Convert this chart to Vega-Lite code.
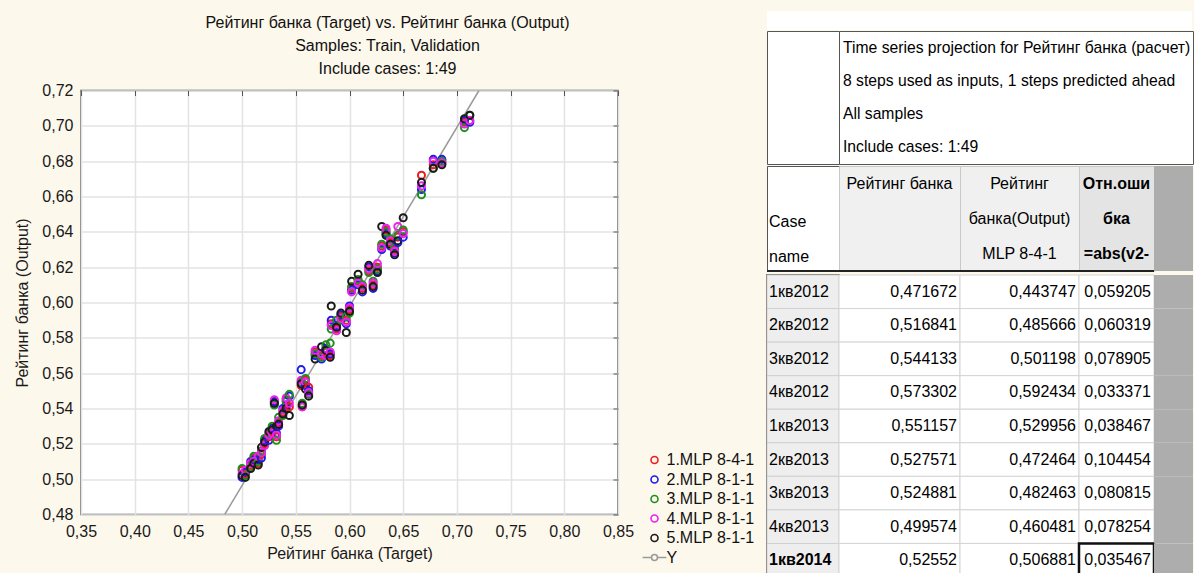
{
  "$schema": "https://vega.github.io/schema/vega-lite/v6.json",
  "background": "#fdf8ec",
  "padding": {"left": 14, "top": 11, "right": 0, "bottom": 0},
  "autosize": {"type": "pad"},
  "spacing": 71,
  "config": {
    "view": {"stroke": null},
    "concat": {"spacing": 0},
    "locale": {"number": {"decimal": ",", "thousands": " ", "grouping": [3], "currency": ["", ""]}},
    "axis": {"labelFont": "Liberation Sans", "titleFont": "Liberation Sans", "labelFontSize": 16, "titleFontSize": 16, "titleFontWeight": "normal", "labelColor": "#1a1a1a", "titleColor": "#1a1a1a", "gridColor": "#e3e3e3", "gridWidth": 1.5, "labelFlush": false},
    "legend": {"labelFont": "Liberation Sans", "labelFontSize": 16, "labelColor": "#111111"},
    "text": {"font": "Liberation Sans", "fontSize": 16, "color": "#000000"}
  },
  "datasets": {
    "scat": [
      {"t":0.500,"m1":0.505,"m2":0.501,"m3":0.506,"m4":0.503,"m5":0.502},
      {"t":0.503,"m1":0.503,"m2":0.504,"m3":0.502,"m4":0.505,"m5":0.501},
      {"t":0.508,"m1":0.508,"m2":0.510,"m3":0.507,"m4":0.509,"m5":0.506},
      {"t":0.511,"m1":0.512,"m2":0.511,"m3":0.513,"m4":0.510,"m5":0.509},
      {"t":0.515,"m1":0.509,"m2":0.511,"m3":0.510,"m4":0.513,"m5":0.508},
      {"t":0.518,"m1":0.514,"m2":0.512,"m3":0.516,"m4":0.515,"m5":0.518},
      {"t":0.521,"m1":0.520,"m2":0.522,"m3":0.523,"m4":0.519,"m5":0.521},
      {"t":0.525,"m1":0.524,"m2":0.522,"m3":0.526,"m4":0.525,"m5":0.527},
      {"t":0.528,"m1":0.527,"m2":0.529,"m3":0.530,"m4":0.526,"m5":0.528},
      {"t":0.532,"m1":0.524,"m2":0.526,"m3":0.522,"m4":0.525,"m5":0.530},
      {"t":0.534,"m1":0.532,"m2":0.530,"m3":0.535,"m4":0.533,"m5":0.531},
      {"t":0.530,"m1":0.543,"m2":0.544,"m3":0.542,"m4":0.545,"m5":0.543},
      {"t":0.538,"m1":0.538,"m2":0.540,"m3":0.536,"m4":0.539,"m5":0.537},
      {"t":0.541,"m1":0.545,"m2":0.542,"m3":0.544,"m4":0.546,"m5":0.540},
      {"t":0.544,"m1":0.541,"m2":0.547,"m3":0.548,"m4":0.543,"m5":0.536},
      {"t":0.555,"m1":0.553,"m2":0.562,"m3":0.555,"m4":0.556,"m5":0.554},
      {"t":0.556,"m1":0.541,"m2":0.542,"m3":0.543,"m4":0.541,"m5":0.542},
      {"t":0.559,"m1":0.556,"m2":0.553,"m3":0.557,"m4":0.555,"m5":0.551},
      {"t":0.562,"m1":0.552,"m2":0.550,"m3":0.548,"m4":0.549,"m5":0.547},
      {"t":0.568,"m1":0.572,"m2":0.570,"m3":0.571,"m4":0.573,"m5":0.568},
      {"t":0.574,"m1":0.570,"m2":0.568,"m3":0.569,"m4":0.571,"m5":0.575},
      {"t":0.578,"m1":0.572,"m2":0.574,"m3":0.576,"m4":0.570,"m5":0.573},
      {"t":0.582,"m1":0.570,"m2":0.571,"m3":0.577,"m4":0.572,"m5":0.569},
      {"t":0.583,"m1":0.588,"m2":0.590,"m3":0.585,"m4":0.587,"m5":0.598},
      {"t":0.588,"m1":0.585,"m2":0.587,"m3":0.590,"m4":0.584,"m5":0.586},
      {"t":0.592,"m1":0.592,"m2":0.593,"m3":0.590,"m4":0.591,"m5":0.594},
      {"t":0.597,"m1":0.590,"m2":0.588,"m3":0.592,"m4":0.589,"m5":0.583},
      {"t":0.600,"m1":0.596,"m2":0.598,"m3":0.594,"m4":0.597,"m5":0.595},
      {"t":0.602,"m1":0.608,"m2":0.607,"m3":0.609,"m4":0.606,"m5":0.612},
      {"t":0.608,"m1":0.612,"m2":0.610,"m3":0.613,"m4":0.611,"m5":0.616},
      {"t":0.612,"m1":0.608,"m2":0.606,"m3":0.610,"m4":0.609,"m5":0.607},
      {"t":0.618,"m1":0.618,"m2":0.620,"m3":0.617,"m4":0.619,"m5":0.621},
      {"t":0.622,"m1":0.610,"m2":0.608,"m3":0.612,"m4":0.611,"m5":0.609},
      {"t":0.626,"m1":0.620,"m2":0.618,"m3":0.619,"m4":0.622,"m5":0.617},
      {"t":0.630,"m1":0.632,"m2":0.630,"m3":0.633,"m4":0.631,"m5":0.643},
      {"t":0.634,"m1":0.641,"m2":0.639,"m3":0.640,"m4":0.642,"m5":0.638},
      {"t":0.638,"m1":0.634,"m2":0.632,"m3":0.636,"m4":0.635,"m5":0.633},
      {"t":0.642,"m1":0.630,"m2":0.628,"m3":0.631,"m4":0.629,"m5":0.627},
      {"t":0.645,"m1":0.637,"m2":0.634,"m3":0.638,"m4":0.643,"m5":0.635},
      {"t":0.650,"m1":0.640,"m2":0.637,"m3":0.641,"m4":0.639,"m5":0.648},
      {"t":0.667,"m1":0.672,"m2":0.664,"m3":0.661,"m4":0.666,"m5":0.668},
      {"t":0.678,"m1":0.678,"m2":0.681,"m3":0.676,"m4":0.680,"m5":0.676},
      {"t":0.686,"m1":0.679,"m2":0.681,"m3":0.680,"m4":0.679,"m5":0.678},
      {"t":0.707,"m1":0.702,"m2":0.703,"m3":0.699,"m4":0.701,"m5":0.704},
      {"t":0.712,"m1":0.703,"m2":0.702,"m3":0.706,"m4":0.703,"m5":0.706}
    ],
    "hdr": [
      {"k":"c0","line":2,"label":"Case"},
      {"k":"c0","line":3,"label":"name"},
      {"k":"c1","line":1,"label":"Рейтинг банка"},
      {"k":"c2","line":1,"label":"Рейтинг"},
      {"k":"c2","line":2,"label":"банка(Output)"},
      {"k":"c2","line":3,"label":"MLP 8-4-1"},
      {"k":"c3","line":1,"label":"Отн.оши"},
      {"k":"c3","line":2,"label":"бка"},
      {"k":"c3","line":3,"label":"=abs(v2-"},
      {"k":"c4","line":1,"label":""}
    ],
    "proj": [
      {"line":1,"label":"Time series projection for Рейтинг банка (расчет)"},
      {"line":2,"label":"8 steps used as inputs, 1 steps predicted ahead"},
      {"line":3,"label":"All samples"},
      {"line":4,"label":"Include cases: 1:49"}
    ],
    "tbl": [
      {"case":"1кв2012","a":0.471672,"b":0.443747,"c":0.059205},
      {"case":"2кв2012","a":0.516841,"b":0.485666,"c":0.060319},
      {"case":"3кв2012","a":0.544133,"b":0.501198,"c":0.078905},
      {"case":"4кв2012","a":0.573302,"b":0.592434,"c":0.033371},
      {"case":"1кв2013","a":0.551157,"b":0.529956,"c":0.038467},
      {"case":"2кв2013","a":0.527571,"b":0.472464,"c":0.104454},
      {"case":"3кв2013","a":0.524881,"b":0.482463,"c":0.080815},
      {"case":"4кв2013","a":0.499574,"b":0.460481,"c":0.078254},
      {"case":"1кв2014","a":0.52552,"b":0.506881,"c":0.035467}
    ]
  },
  "hconcat": [
    {
      "spacing": 1.5,
      "vconcat": [
        {
          "width": 613, "height": 69,
          "data": {"values": [
            {"line": 1, "label": "Рейтинг банка (Target) vs. Рейтинг банка (Output)"},
            {"line": 2, "label": "Samples: Train, Validation"},
            {"line": 3, "label": "Include cases: 1:49"}
          ]},
          "mark": {"type": "text", "baseline": "middle", "color": "#111111"},
          "encoding": {
            "y": {"field": "line", "type": "ordinal", "axis": null, "scale": {"type": "band", "paddingInner": 0, "paddingOuter": 0}},
            "text": {"field": "label"}
          }
        },
        {
          "width": 537,
          "height": 424,
          "view": {"fill": "white", "stroke": "#555555", "strokeWidth": 1.5},
          "encoding": {
            "color": {"field": "s", "type": "nominal",
              "scale": {"domain": ["m1","m2","m3","m4","m5","Y"], "range": ["#ee1c1c","#1c1cee","#1f8f1f","#f01ef0","#1a1a1a","#9a9a9a"]},
              "legend": {"title": null, "orient": "none", "legendX": 565.5, "legendY": 441, "padding": 0,
                "symbolType": "circle", "symbolSize": 49, "symbolStrokeWidth": 1.6, "symbolFillColor": "transparent",
                "labelOffset": 4, "rowPadding": 3.5,
                "labelExpr": "datum.label == 'Y' ? 'Y' : (datum.label == 'm1' ? '1.MLP 8-4-1' : slice(datum.label, 1) + '.MLP 8-1-1')",
                "encode": {"symbols": {"update": {"shape": {"signal": "datum.value == 'Y' ? 'M-3.4,0H-0.85M0.85,0H3.4M-0.85,0A0.85,0.85 0 1,1 0.85,0A0.85,0.85 0 1,1 -0.85,0' : 'circle'"}, "fill": {"value": "transparent"}}}}
              }
            }
          },
          "layer": [
            {
              "data": {"values": [{"t": 0.4838, "o": 0.48, "s": "Y"}, {"t": 0.7206, "o": 0.72, "s": "Y"}]},
              "mark": {"type": "line", "strokeWidth": 1.5, "clip": true},
              "encoding": {
                "x": {"field": "t", "type": "quantitative", "scale": {"domain": [0.35, 0.85], "nice": false, "zero": false},
                  "axis": {"values": [0.35,0.40,0.45,0.50,0.55,0.60,0.65,0.70,0.75,0.80,0.85], "format": ".2f", "title": "Рейтинг банка (Target)", "grid": true, "ticks": false, "domain": false, "labelPadding": 9, "titlePadding": 6}},
                "y": {"field": "o", "type": "quantitative", "scale": {"domain": [0.48, 0.72], "nice": false, "zero": false},
                  "axis": {"values": [0.48,0.50,0.52,0.54,0.56,0.58,0.60,0.62,0.64,0.66,0.68,0.70,0.72], "format": ".2f", "title": "Рейтинг банка (Output)", "grid": true, "ticks": false, "domain": false, "labelPadding": 8, "titlePadding": 11}}
              }
            },
            {
              "data": {"name": "scat"},
              "transform": [{"fold": ["m1","m2","m3","m4","m5"], "as": ["s", "o"]}],
              "mark": {"type": "point", "shape": "circle", "filled": false, "size": 50, "strokeWidth": 2, "opacity": 1},
              "encoding": {
                "x": {"field": "t", "type": "quantitative", "scale": {"domain": [0.35, 0.85], "nice": false, "zero": false},
                  "axis": {"orient": "top", "values": [0.35,0.40,0.45,0.50,0.55,0.60,0.65,0.70,0.75,0.80,0.85], "labels": false, "grid": false, "domain": false, "ticks": true, "tickSize": -5, "tickColor": "#555555", "title": null}},
                "y": {"field": "o", "type": "quantitative", "scale": {"domain": [0.48, 0.72], "nice": false, "zero": false},
                  "axis": {"orient": "right", "values": [0.48,0.50,0.52,0.54,0.56,0.58,0.60,0.62,0.64,0.66,0.68,0.70,0.72], "labels": false, "grid": false, "domain": false, "ticks": true, "tickSize": -5, "tickColor": "#555555", "title": null}}
              }
            }
          ],
          "resolve": {"axis": {"x": "independent", "y": "independent"}}
        }
      ]
    },
    {
      "vconcat": [
        {"width": 425, "height": 19, "view": {"fill": "white"}, "data": {"values": [{}]}, "mark": {"type": "text", "text": ""}},
        {
          "bounds": "flush",
          "hconcat": [
            {"width": 72, "height": 133, "view": {"fill": "white", "stroke": "#555555"}, "data": {"values": [{}]}, "mark": {"type": "text", "text": ""}},
            {"width": 354, "height": 133, "view": {"fill": "white", "stroke": "#555555"},
              "data": {"name": "proj"},
              "mark": {"type": "text", "align": "left", "baseline": "middle", "dx": 4, "fontSize": 15.7},
              "encoding": {
                "x": {"datum": "t", "type": "nominal", "bandPosition": 0, "axis": null, "scale": {"type": "band", "paddingInner": 0, "paddingOuter": 0}},
                "y": {"field": "line", "type": "ordinal", "axis": null, "scale": {"type": "band", "paddingInner": 0, "paddingOuter": 0, "domain": [1,2,3,4]}},
                "text": {"field": "label"}
              }
            }
          ]
        },
        {
          "bounds": "flush",
          "hconcat": [
            {"width": 72, "height": 105, "view": {"fill": "white", "stroke": "#555555"}, "data": {"name": "hdr"}, "transform": [{"filter": "datum.k == 'c0'"}],
              "layer": [
                {"mark": {"type": "text", "align": "left", "baseline": "middle", "dx": 2, "dy": 3},
                  "encoding": {
                    "x": {"datum": "h", "type": "nominal", "bandPosition": 0, "axis": null, "scale": {"type": "band", "paddingInner": 0, "paddingOuter": 0}},
                    "y": {"field": "line", "type": "ordinal", "axis": null, "scale": {"type": "band", "paddingInner": 0, "paddingOuter": 0, "domain": [1,2,3]}},
                    "text": {"field": "label"}}},
                {"mark": {"type": "rule", "color": "#222222", "strokeWidth": 2},
                  "encoding": {"y": {"datum": 3, "type": "ordinal", "bandPosition": 1, "axis": null, "scale": {"type": "band", "paddingInner": 0, "paddingOuter": 0, "domain": [1,2,3]}}}}
              ]
            },
            {"width": 121, "height": 105, "view": {"fill": "#f0f0f0", "stroke": "#c8c8c8"}, "data": {"name": "hdr"}, "transform": [{"filter": "datum.k == 'c1'"}],
              "layer": [
                {"mark": {"type": "text", "baseline": "middle"},
                  "encoding": {
                    "y": {"field": "line", "type": "ordinal", "axis": null, "scale": {"type": "band", "paddingInner": 0, "paddingOuter": 0, "domain": [1,2,3]}},
                    "text": {"field": "label"}}},
                {"mark": {"type": "rule", "color": "#222222", "strokeWidth": 2},
                  "encoding": {"y": {"datum": 3, "type": "ordinal", "bandPosition": 1, "axis": null, "scale": {"type": "band", "paddingInner": 0, "paddingOuter": 0, "domain": [1,2,3]}}}}
              ]
            },
            {"width": 119, "height": 105, "view": {"fill": "#f0f0f0", "stroke": "#c8c8c8"}, "data": {"name": "hdr"}, "transform": [{"filter": "datum.k == 'c2'"}],
              "layer": [
                {"mark": {"type": "text", "baseline": "middle"},
                  "encoding": {
                    "y": {"field": "line", "type": "ordinal", "axis": null, "scale": {"type": "band", "paddingInner": 0, "paddingOuter": 0, "domain": [1,2,3]}},
                    "text": {"field": "label"}}},
                {"mark": {"type": "rule", "color": "#222222", "strokeWidth": 2},
                  "encoding": {"y": {"datum": 3, "type": "ordinal", "bandPosition": 1, "axis": null, "scale": {"type": "band", "paddingInner": 0, "paddingOuter": 0, "domain": [1,2,3]}}}}
              ]
            },
            {"width": 75, "height": 105, "view": {"fill": "#e4e4e4", "stroke": "#c8c8c8"}, "data": {"name": "hdr"}, "transform": [{"filter": "datum.k == 'c3'"}],
              "layer": [
                {"mark": {"type": "text", "baseline": "middle", "fontWeight": "bold"},
                  "encoding": {
                    "y": {"field": "line", "type": "ordinal", "axis": null, "scale": {"type": "band", "paddingInner": 0, "paddingOuter": 0, "domain": [1,2,3]}},
                    "text": {"field": "label"}}},
                {"mark": {"type": "rule", "color": "#222222", "strokeWidth": 2},
                  "encoding": {"y": {"datum": 3, "type": "ordinal", "bandPosition": 1, "axis": null, "scale": {"type": "band", "paddingInner": 0, "paddingOuter": 0, "domain": [1,2,3]}}}}
              ]
            },
            {"width": 39, "height": 105, "view": {"fill": "#adadad"}, "data": {"name": "hdr"}, "transform": [{"filter": "datum.k == 'c4'"}],
              "mark": {"type": "text"}, "encoding": {"text": {"field": "label"}}}
          ]
        },
        {
          "bounds": "flush",
          "hconcat": [
            {"width": 72, "height": 302, "view": {"stroke": "#222222", "strokeWidth": 1.5}, "data": {"name": "tbl"},
              "layer": [
                {"mark": {"type": "rect", "fill": "#eeeeee", "stroke": "#d0d0d0", "strokeWidth": 1},
                  "encoding": {
                    "x": {"datum": "v", "type": "nominal", "axis": null, "scale": {"type": "band", "paddingInner": 0, "paddingOuter": 0}},
                    "y": {"field": "case", "type": "ordinal", "axis": null, "scale": {"type": "band", "paddingInner": 0, "paddingOuter": 0, "domain": ["1кв2012","2кв2012","3кв2012","4кв2012","1кв2013","2кв2013","3кв2013","4кв2013","1кв2014"]}}}},
                {"transform": [{"filter": "datum.case != '1кв2014'"}],
                  "mark": {"type": "text", "align": "left", "baseline": "middle", "dx": 2},
                  "encoding": {
                    "x": {"datum": "v", "type": "nominal", "bandPosition": 0, "axis": null, "scale": {"type": "band", "paddingInner": 0, "paddingOuter": 0}},
                    "y": {"field": "case", "type": "ordinal", "axis": null, "scale": {"type": "band", "paddingInner": 0, "paddingOuter": 0, "domain": ["1кв2012","2кв2012","3кв2012","4кв2012","1кв2013","2кв2013","3кв2013","4кв2013","1кв2014"]}},
                    "text": {"field": "case"}}},
                {"transform": [{"filter": "datum.case == '1кв2014'"}],
                  "mark": {"type": "text", "align": "left", "baseline": "middle", "dx": 2, "fontWeight": "bold"},
                  "encoding": {
                    "x": {"datum": "v", "type": "nominal", "bandPosition": 0, "axis": null, "scale": {"type": "band", "paddingInner": 0, "paddingOuter": 0}},
                    "y": {"field": "case", "type": "ordinal", "axis": null, "scale": {"type": "band", "paddingInner": 0, "paddingOuter": 0, "domain": ["1кв2012","2кв2012","3кв2012","4кв2012","1кв2013","2кв2013","3кв2013","4кв2013","1кв2014"]}},
                    "text": {"field": "case"}}}
              ]
            },
            {"width": 121, "height": 302, "data": {"name": "tbl"},
              "layer": [
                {"mark": {"type": "rect", "fill": "white", "stroke": "#d4d4d4", "strokeWidth": 1},
                  "encoding": {
                    "x": {"datum": "v", "type": "nominal", "axis": null, "scale": {"type": "band", "paddingInner": 0, "paddingOuter": 0}},
                    "y": {"field": "case", "type": "ordinal", "axis": null, "scale": {"type": "band", "paddingInner": 0, "paddingOuter": 0, "domain": ["1кв2012","2кв2012","3кв2012","4кв2012","1кв2013","2кв2013","3кв2013","4кв2013","1кв2014"]}}}},
                {"mark": {"type": "text", "align": "right", "baseline": "middle", "dx": -3},
                  "encoding": {
                    "x": {"datum": "v", "type": "nominal", "bandPosition": 1, "axis": null, "scale": {"type": "band", "paddingInner": 0, "paddingOuter": 0}},
                    "y": {"field": "case", "type": "ordinal", "axis": null, "scale": {"type": "band", "paddingInner": 0, "paddingOuter": 0, "domain": ["1кв2012","2кв2012","3кв2012","4кв2012","1кв2013","2кв2013","3кв2013","4кв2013","1кв2014"]}},
                    "text": {"field": "a", "type": "quantitative", "format": ".6~f"}}}
              ]
            },
            {"width": 119, "height": 302, "data": {"name": "tbl"},
              "layer": [
                {"mark": {"type": "rect", "fill": "white", "stroke": "#d4d4d4", "strokeWidth": 1},
                  "encoding": {
                    "x": {"datum": "v", "type": "nominal", "axis": null, "scale": {"type": "band", "paddingInner": 0, "paddingOuter": 0}},
                    "y": {"field": "case", "type": "ordinal", "axis": null, "scale": {"type": "band", "paddingInner": 0, "paddingOuter": 0, "domain": ["1кв2012","2кв2012","3кв2012","4кв2012","1кв2013","2кв2013","3кв2013","4кв2013","1кв2014"]}}}},
                {"mark": {"type": "text", "align": "right", "baseline": "middle", "dx": -3},
                  "encoding": {
                    "x": {"datum": "v", "type": "nominal", "bandPosition": 1, "axis": null, "scale": {"type": "band", "paddingInner": 0, "paddingOuter": 0}},
                    "y": {"field": "case", "type": "ordinal", "axis": null, "scale": {"type": "band", "paddingInner": 0, "paddingOuter": 0, "domain": ["1кв2012","2кв2012","3кв2012","4кв2012","1кв2013","2кв2013","3кв2013","4кв2013","1кв2014"]}},
                    "text": {"field": "b", "type": "quantitative", "format": ".6~f"}}}
              ]
            },
            {"width": 75, "height": 302, "data": {"name": "tbl"},
              "layer": [
                {"mark": {"type": "rect", "fill": "white", "stroke": "#d4d4d4", "strokeWidth": 1},
                  "encoding": {
                    "x": {"datum": "v", "type": "nominal", "axis": null, "scale": {"type": "band", "paddingInner": 0, "paddingOuter": 0}},
                    "y": {"field": "case", "type": "ordinal", "axis": null, "scale": {"type": "band", "paddingInner": 0, "paddingOuter": 0, "domain": ["1кв2012","2кв2012","3кв2012","4кв2012","1кв2013","2кв2013","3кв2013","4кв2013","1кв2014"]}}}},
                {"transform": [{"filter": "datum.case == '1кв2014'"}],
                  "mark": {"type": "rect", "fillOpacity": 0, "stroke": "#111111", "strokeWidth": 2.5},
                  "encoding": {
                    "x": {"datum": "v", "type": "nominal", "axis": null, "scale": {"type": "band", "paddingInner": 0, "paddingOuter": 0}},
                    "y": {"field": "case", "type": "ordinal", "axis": null, "scale": {"type": "band", "paddingInner": 0, "paddingOuter": 0, "domain": ["1кв2012","2кв2012","3кв2012","4кв2012","1кв2013","2кв2013","3кв2013","4кв2013","1кв2014"]}}}},
                {"mark": {"type": "text", "align": "right", "baseline": "middle", "dx": -3},
                  "encoding": {
                    "x": {"datum": "v", "type": "nominal", "bandPosition": 1, "axis": null, "scale": {"type": "band", "paddingInner": 0, "paddingOuter": 0}},
                    "y": {"field": "case", "type": "ordinal", "axis": null, "scale": {"type": "band", "paddingInner": 0, "paddingOuter": 0, "domain": ["1кв2012","2кв2012","3кв2012","4кв2012","1кв2013","2кв2013","3кв2013","4кв2013","1кв2014"]}},
                    "text": {"field": "c", "type": "quantitative", "format": ".6~f"}}}
              ]
            },
            {"width": 39, "height": 302, "data": {"name": "tbl"},
              "mark": {"type": "rect", "fill": "#adadad"},
              "encoding": {
                "x": {"datum": "v", "type": "nominal", "axis": null, "scale": {"type": "band", "paddingInner": 0, "paddingOuter": 0}},
                "y": {"field": "case", "type": "ordinal", "axis": null, "scale": {"type": "band", "paddingInner": 0, "paddingOuter": 0, "domain": ["1кв2012","2кв2012","3кв2012","4кв2012","1кв2013","2кв2013","3кв2013","4кв2013","1кв2014"]}}}
            }
          ]
        }
      ]
    }
  ]
}
